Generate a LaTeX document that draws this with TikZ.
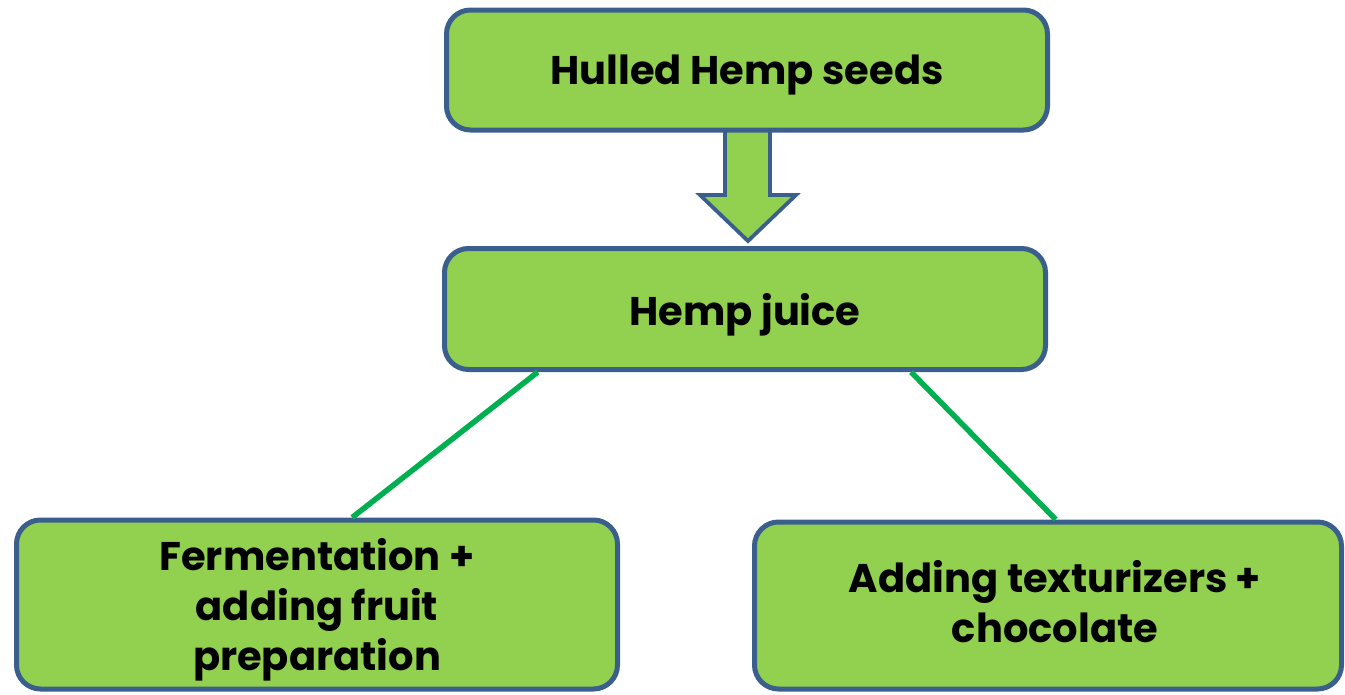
\documentclass[tikz,border=0pt]{standalone}
\usepackage{fontspec}
\setmainfont{Poppins}
\usetikzlibrary{calc}
\definecolor{boxfill}{RGB}{146,208,80}
\definecolor{boxdraw}{RGB}{59,95,140}
\definecolor{linkgreen}{RGB}{0,176,80}
\newcommand{\movetext}[2]{\raisebox{-#1}[\height][\depth]{\begin{tabular}{@{}c@{}}#2\end{tabular}}}
\tikzset{
  stepbox/.style={draw=boxdraw, fill=boxfill, line width=5pt, rounded corners=24pt,
    align=center, font=\fontsize{40}{50}\selectfont\bfseries, inner sep=0pt},
  link/.style={draw=linkgreen, line width=5.5pt},
  blockarrow/.style={draw=boxdraw, fill=boxfill, line width=3.8pt, line join=miter}
}
\begin{document}
\begin{tikzpicture}[x=1pt,y=-1pt]
\useasboundingbox (0,0) rectangle (1345,694);
% block arrow (behind boxes)
\draw[blockarrow] (725,125) -- (770,125) -- (770,195) -- (796,195) -- (748,241)
  -- (700,195) -- (725,195) -- cycle;
\node[stepbox, minimum width=601pt, minimum height=120pt] (top) at (747,70) {\movetext{4pt}{Hulled Hemp seeds}};
\node[stepbox, minimum width=601pt, minimum height=121pt] (mid) at (745,309) {\movetext{6pt}{Hemp juice}};
\node[stepbox, minimum width=601pt, minimum height=169pt] (left) at (317,604.5)
  {\movetext{6pt}{Fermentation +\\adding fruit\\preparation}};
\node[stepbox, minimum width=587pt, minimum height=167pt] (right) at (1048,605.5)
  {\movetext{2pt}{\hspace*{14pt}Adding texturizers +\\\hspace*{14pt}chocolate}};
\draw[link] ($(mid.south west)!0.158!(mid.south east)$) -- ($(left.north west)!0.558!(left.north east)$);
\draw[link] ($(mid.south west)!0.774!(mid.south east)$) -- ($(right.north west)!0.513!(right.north east)$);
\end{tikzpicture}
\end{document}
